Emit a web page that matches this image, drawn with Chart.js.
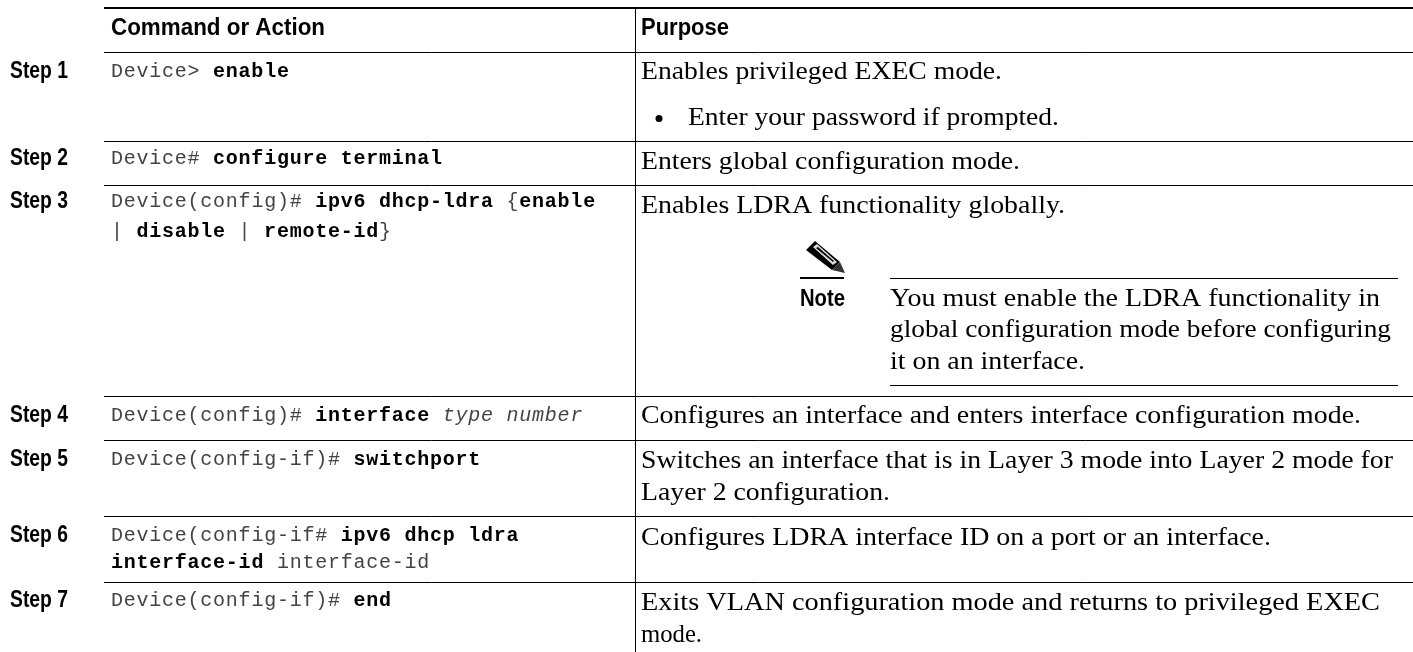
<!DOCTYPE html>
<html>
<head>
<meta charset="utf-8">
<title>Command table</title>
<script src="https://cdn.jsdelivr.net/npm/chart.js@4"></script>
<style>
  html, body { margin: 0; padding: 0; background: #fff; }
  canvas { display: block; }
</style>
</head>
<body>
<canvas id="table" width="1413" height="652"></canvas>
<script>
// Table content
const headers = ['Command or Action', 'Purpose'];
const stepLabels = ['Step 1', 'Step 2', 'Step 3', 'Step 4', 'Step 5', 'Step 6', 'Step 7'];
const noteLabel = 'Note';

// Each command line is a list of [text, style] runs: r = regular, b = bold, i = italic
const commandLines = [
  [['Device> ', 'r'], ['enable', 'b']],
  [['Device# ', 'r'], ['configure terminal', 'b']],
  [['Device(config)# ', 'r'], ['ipv6 dhcp-ldra', 'b'], [' {', 'r'], ['enable', 'b']],
  [['| ', 'r'], ['disable', 'b'], [' | ', 'r'], ['remote-id', 'b'], ['}', 'r']],
  [['Device(config)# ', 'r'], ['interface', 'b'], [' ', 'r'], ['type number', 'i']],
  [['Device(config-if)# ', 'r'], ['switchport', 'b']],
  [['Device(config-if# ', 'r'], ['ipv6 dhcp ldra', 'b']],
  [['interface-id', 'b'], [' interface-id', 'r']],
  [['Device(config-if)# ', 'r'], ['end', 'b']],
];

const purposeLines = [
  'Enables privileged EXEC mode.',
  'Enter your password if prompted.',
  'Enters global configuration mode.',
  'Enables LDRA functionality globally.',
  'You must enable the LDRA functionality in',
  'global configuration mode before configuring',
  'it on an interface.',
  'Configures an interface and enters interface configuration mode.',
  'Switches an interface that is in Layer 3 mode into Layer 2 mode for',
  'Layer 2 configuration.',
  'Configures LDRA interface ID on a port or an interface.',
  'Exits VLAN configuration mode and returns to privileged EXEC',
  'mode.',
];

// Layout, in the units of the two axes
const rowRules = [52.5, 141.5, 185.5, 396.5, 440.5, 516.5, 582.5];
const stepBaselines = [78, 165, 208, 422, 466, 542, 607];
const commandBaselines = [77, 164, 207, 237, 421, 465, 541, 568, 606];
const purposeBaselines = [79, 125, 169, 213, 306, 337, 369, 423, 468, 500, 545, 610, 642];
const purposeIndents = [641, 688, 641, 641, 890, 890, 890, 641, 641, 641, 641, 641, 641];
const purposeWidths = [361, 371, 379, 424, 490, 501, 195, 720, 752, 249, 630, 739, 61];
const pencilBody = [[806, 250], [815, 241], [840, 262], [832, 270]];
const pencilBand = [[813, 247], [817, 244], [837, 262], [833, 265]];
const pencilStripe = [[816, 248], [818, 247], [834, 261], [833, 262]];
const pencilTip = [[840, 262], [845, 273], [832, 270]];

const COMMAND_INDENT = 111;
const MONO_ADVANCE = 12.76;
const MONO_SPACING = 0.76; // 20px mono has a 12px advance
const monoFonts = {
  r: '20px "Liberation Mono"',
  b: 'bold 20px "Liberation Mono"',
  i: 'italic 20px "Liberation Mono"',
};
// The regular Courier in the source is thin, so it reads grey
const monoColors = { r: '#444', b: '#000', i: '#444' };
const SERIF_FONT = '26px "Liberation Serif"';
const LABEL_FONT = 'bold 23px "Liberation Sans"';

function fitText(ctx, text, x, y, width) {
  const scale = width / ctx.measureText(text).width;
  ctx.save();
  ctx.translate(x, y);
  ctx.scale(scale, 1);
  ctx.fillText(text, 0, 0);
  ctx.restore();
}

function fillShape(ctx, chart, points, color) {
  const { x, y } = chart.scales;
  ctx.fillStyle = color;
  ctx.beginPath();
  points.forEach(([px, py], index) => {
    const sx = x.getPixelForValue(px);
    const sy = y.getPixelForValue(py);
    if (index === 0) ctx.moveTo(sx, sy);
    else ctx.lineTo(sx, sy);
  });
  ctx.closePath();
  ctx.fill();
}

// Draws the table text and the note icon at scale positions
const tableText = {
  id: 'tableText',
  afterDatasetsDraw(chart) {
    const { ctx } = chart;
    const { x, y } = chart.scales;
    ctx.save();
    ctx.textBaseline = 'alphabetic';
    ctx.textAlign = 'left';
    ctx.fillStyle = '#000';

    ctx.font = LABEL_FONT;
    fitText(ctx, headers[0], x.getPixelForValue(111), y.getPixelForValue(35), 214);
    fitText(ctx, headers[1], x.getPixelForValue(641), y.getPixelForValue(35), 88);
    stepLabels.forEach((label, i) => {
      fitText(ctx, label, x.getPixelForValue(10), y.getPixelForValue(stepBaselines[i]), 58);
    });
    fitText(ctx, noteLabel, x.getPixelForValue(800), y.getPixelForValue(306), 45);

    ctx.letterSpacing = `${MONO_SPACING}px`;
    commandLines.forEach((runs, i) => {
      let chars = 0;
      runs.forEach(([text, style]) => {
        ctx.font = monoFonts[style];
        ctx.fillStyle = monoColors[style];
        const px = x.getPixelForValue(COMMAND_INDENT) + chars * MONO_ADVANCE;
        ctx.fillText(text, px, y.getPixelForValue(commandBaselines[i]));
        chars += text.length;
      });
    });
    ctx.letterSpacing = '0px';

    ctx.font = SERIF_FONT;
    ctx.fillStyle = '#000';
    purposeLines.forEach((line, i) => {
      fitText(ctx, line, x.getPixelForValue(purposeIndents[i]), y.getPixelForValue(purposeBaselines[i]), purposeWidths[i]);
    });

    fillShape(ctx, chart, pencilBody, '#000');
    fillShape(ctx, chart, pencilBand, '#ddd');
    fillShape(ctx, chart, pencilStripe, '#000');
    fillShape(ctx, chart, pencilTip, '#333');
    ctx.restore();
  },
};

// One straight line between two table points
function rule(x1, y1, x2, y2, width) {
  return {
    data: [{ x: x1, y: y1 }, { x: x2, y: y2 }],
    showLine: true,
    borderColor: '#000',
    borderWidth: width,
    pointRadius: 0,
  };
}

const datasets = [
  rule(104, 8, 1413, 8, 2),
  ...rowRules.map((ry) => rule(104, ry, 1413, ry, 1)),
  rule(635.5, 8, 635.5, 652, 1),
  rule(890, 278.5, 1398, 278.5, 1),
  rule(890, 385.5, 1398, 385.5, 1),
  rule(800, 278, 844, 278, 2),
  {
    data: [{ x: 659, y: 118.5 }],
    pointRadius: 3.5,
    pointBackgroundColor: '#000',
    pointBorderWidth: 0,
  },
];

new Chart(document.getElementById('table'), {
  type: 'scatter',
  data: { datasets },
  plugins: [tableText],
  options: {
    responsive: false,
    animation: false,
    layout: { padding: 0, autoPadding: false },
    plugins: { legend: { display: false }, tooltip: { enabled: false } },
    scales: {
      x: { type: 'linear', min: 0, max: 1413, display: false },
      y: { type: 'linear', min: 0, max: 652, reverse: true, display: false },
    },
  },
});
</script>
</body>
</html>
